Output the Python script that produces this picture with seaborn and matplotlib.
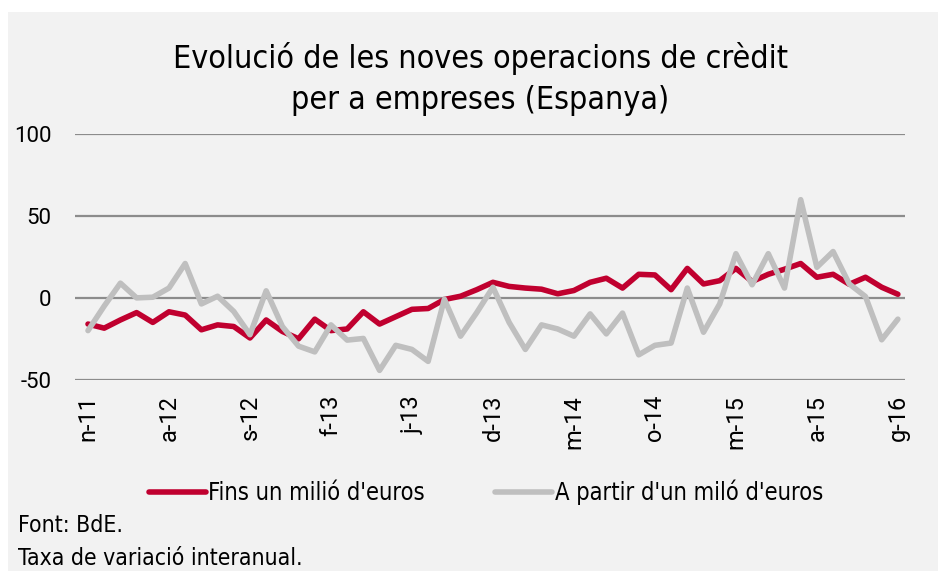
import numpy as np
import pandas as pd
import seaborn as sns
import matplotlib.pyplot as plt
from matplotlib.lines import Line2D
from matplotlib.patches import Rectangle

sns.set_style('white')
plt.rcParams['font.family'] = ['DejaVu Sans']
plt.rcParams['font.stretch'] = 'condensed'
plt.rcParams['text.color'] = 'black'
plt.rcParams['xtick.color'] = 'black'
plt.rcParams['ytick.color'] = 'black'

# monthly data, nov 2011 - gen 2016
months = pd.period_range('2011-11', '2016-01', freq='M')
fins_un_milio = [-16, -18.5, -13.5, -9, -15, -8.5, -10.5, -19.5, -16.5, -17.5,
                 -24.5, -13.5, -20.5, -25, -13, -20, -19, -8.5, -16, -11.5,
                 -7, -6.5, -1, 1, 5, 9.5, 7, 6, 5.3, 2.5,
                 4.5, 9.5, 12, 6, 14.4, 14, 5, 18, 8.5, 10.5,
                 18, 10, 14.4, 17.5, 21, 12.6, 14.4, 8.3, 12.6, 6.5,
                 2.2]
a_partir_milio = [-20, -5, 9, 0, 0.4, 6, 21, -3.7, 1, -8.3,
                  -22.5, 4.3, -17.5, -29.5, -33, -16.5, -25.8, -24.8, -44.3, -29,
                  -31.5, -38.8, -0.8, -23.4, -9, 6.5, -15, -31.5, -16.5, -19,
                  -23.4, -9.8, -22, -9.3, -34.8, -29, -27.6, 6, -21, -3.7,
                  27, 8, 27, 6, 60, 18.7, 28.3, 8.5, 0.8, -25.6,
                  -13]

tick_labels = ['n-11', 'a-12', 's-12', 'f-13', 'j-13', 'd-13',
               'm-14', 'o-14', 'm-15', 'a-15', 'g-16']

df = pd.DataFrame({
    'idx': np.arange(len(months)),
    "Fins un milió d'euros": fins_un_milio,
    "A partir d'un miló d'euros": a_partir_milio,
})
long_df = df.melt(id_vars='idx', var_name='serie', value_name='valor')

bg = '#F2F2F2'
red = '#C0002F'
grey = '#BFBFBF'

fig = plt.figure(figsize=(9.38, 5.71), dpi=100, facecolor='white')
# grey panel with a thin white margin on the top and left
fig.patches.append(Rectangle((8 / 938, 0), 1, 1 - 12 / 571, transform=fig.transFigure,
                             facecolor=bg, edgecolor='none', zorder=-5))
ax = fig.add_axes([0.080, 0.335, 0.885, 0.430], facecolor=bg)
ax.set_zorder(2)

sns.lineplot(data=long_df, x='idx', y='valor', hue='serie',
             palette=[red, grey], linewidth=4, ax=ax,
             legend=False, zorder=3)

ax.set_xlim(-0.8, 50.45)
ax.set_ylim(-50, 100)
ax.set_yticks([-50, 0, 50, 100])
ax.set_yticklabels(['-50', '0', '50', '100'], family='Roboto', fontsize=16)
ax.set_xticks(np.arange(0, 51, 5))
ax.set_xticklabels(tick_labels, rotation=90, family='Roboto', fontsize=17)
ax.tick_params(axis='y', length=0, pad=17)
ax.tick_params(axis='x', length=0, pad=11)
ax.grid(axis='y', color='#8C8C8C', linewidth=1.6)
ax.set_axisbelow(True)
ax.set_xlabel('')
ax.set_ylabel('')
for s in ax.spines.values():
    s.set_visible(False)

fig.text(0.512, 0.862, "Evolució de les noves operacions de crèdit\nper a empreses (Espanya)",
         ha='center', va='center', fontsize=23, linespacing=1.42)

handles = [Line2D([], [], color=red, lw=4), Line2D([], [], color=grey, lw=4)]
fig.legend(handles, ["Fins un milió d'euros", "A partir d'un miló d'euros"],
           loc='center', bbox_to_anchor=(0.518, 0.138), ncol=2, frameon=False,
           fontsize=17, handlelength=2.4, handletextpad=0.1, columnspacing=3.0)

fig.text(0.019, 0.080, 'Font: BdE.', fontsize=16.5, va='center')
fig.text(0.019, 0.022, 'Taxa de variació interanual.', fontsize=16.5, va='center')

fig.savefig('out.png', dpi=100, facecolor='white')
